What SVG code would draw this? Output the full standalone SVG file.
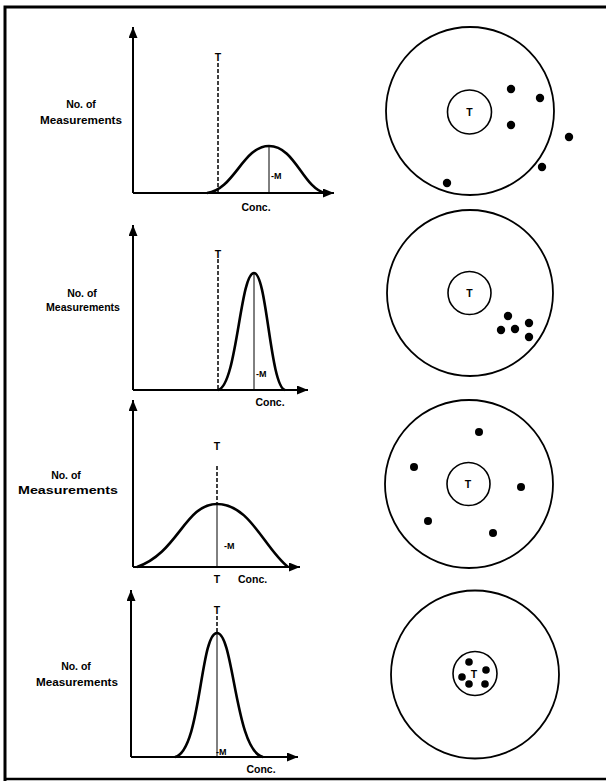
<svg xmlns="http://www.w3.org/2000/svg" width="606" height="783" viewBox="0 0 606 783">
<style>
text{font-family:"Liberation Sans",Arial,sans-serif;font-weight:bold;fill:#000}
.lab{font-size:10.5px}
.t{font-size:10.5px}
.m{font-size:9px}
.axis{stroke:#000;stroke-width:2;fill:none}
.curve{stroke:#000;stroke-width:2.6;fill:none;stroke-linejoin:round}
.mline{stroke:#000;stroke-width:1;fill:none}
.tline{stroke:#000;stroke-width:1.5;fill:none;stroke-dasharray:4,2}
.outer{stroke:#000;stroke-width:1.8;fill:none}
.inner{stroke:#000;stroke-width:1.6;fill:none}
.dot{fill:#000}
.frame{stroke:#000;fill:none}
</style>
<defs>
<marker id="ah" markerUnits="userSpaceOnUse" markerWidth="12" markerHeight="10" refX="11" refY="4.5" orient="auto">
<path d="M0,0 L11,4.5 L0,9 z" fill="#000"/>
</marker>
</defs>
<rect width="606" height="783" fill="#fff"/>
<g id="frame">
<path class="frame" d="M5,781 L5,7 L606,7" stroke-width="3"/>
<path class="frame" d="M5,779 L606,779" stroke-width="2.5"/>
</g>

<g id="plot1">
<line class="axis" x1="133" y1="193" x2="133" y2="27" marker-end="url(#ah)"/>
<line class="axis" x1="133" y1="193" x2="334" y2="193" marker-end="url(#ah)"/>
<line class="tline" x1="218" y1="63" x2="218" y2="193"/>
<text class="t" x="218" y="61" text-anchor="middle">T</text>
<path class="curve" d="M207,193 C234,190 243,146 269,146 C295,146 303,188 325,193"/>
<line class="mline" x1="269" y1="146" x2="269" y2="193"/>
<text class="m" x="271" y="179">-M</text>
<text class="lab" x="256" y="211" text-anchor="middle">Conc.</text>
<text class="lab" x="81" y="108" text-anchor="middle">No. of</text>
<text class="lab" x="40" y="124" textLength="82" lengthAdjust="spacingAndGlyphs">Measurements</text>
</g>

<g id="plot2">
<line class="axis" x1="133" y1="390" x2="133" y2="225" marker-end="url(#ah)"/>
<line class="axis" x1="133" y1="390" x2="308" y2="390" marker-end="url(#ah)"/>
<line class="tline" x1="218" y1="259" x2="218" y2="390"/>
<text class="t" x="218" y="258" text-anchor="middle">T</text>
<path class="curve" d="M218,390 C237,386 240,273 254,273 C267,273 270,386 285,390"/>
<line class="mline" x1="254" y1="273" x2="254" y2="390"/>
<text class="m" x="256" y="377">-M</text>
<text class="lab" x="270" y="406" text-anchor="middle">Conc.</text>
<text class="lab" x="82" y="297" text-anchor="middle">No. of</text>
<text class="lab" x="46" y="311" textLength="74" lengthAdjust="spacingAndGlyphs">Measurements</text>
</g>

<g id="plot3">
<line class="axis" x1="133" y1="567" x2="133" y2="400" marker-end="url(#ah)"/>
<line class="axis" x1="133" y1="567" x2="300" y2="567" marker-end="url(#ah)"/>
<line class="tline" x1="217" y1="466" x2="217" y2="504"/>
<text class="t" x="217" y="450" text-anchor="middle">T</text>
<path class="curve" d="M137,567 C178,553 185,504 217,504 C250,504 264,548 288,567"/>
<line class="mline" x1="217" y1="504" x2="217" y2="567"/>
<text class="m" x="224" y="549">-M</text>
<text class="lab" x="217" y="583" text-anchor="middle">T</text>
<text class="lab" x="238" y="583">Conc.</text>
<text class="lab" x="66" y="479" text-anchor="middle">No. of</text>
<text class="lab" x="18" y="494" textLength="100" lengthAdjust="spacingAndGlyphs">Measurements</text>
</g>

<g id="plot4">
<line class="axis" x1="131" y1="757" x2="131" y2="590" marker-end="url(#ah)"/>
<line class="axis" x1="131" y1="757" x2="298" y2="757" marker-end="url(#ah)"/>
<line class="tline" x1="217" y1="616" x2="217" y2="633"/>
<text class="t" x="217" y="614" text-anchor="middle">T</text>
<path class="curve" d="M175,757 C201,751 200,633 217,633 C234,633 235,751 263,757"/>
<line class="mline" x1="217" y1="633" x2="217" y2="757"/>
<text class="m" x="216" y="755">-M</text>
<text class="lab" x="261" y="773" text-anchor="middle">Conc.</text>
<text class="lab" x="76" y="670" text-anchor="middle">No. of</text>
<text class="lab" x="36" y="686" textLength="82" lengthAdjust="spacingAndGlyphs">Measurements</text>
</g>

<g id="target1">
<circle class="outer" cx="470" cy="111" r="84"/>
<circle class="inner" cx="469.5" cy="112" r="22"/>
<text class="t" x="469.5" y="116" text-anchor="middle">T</text>
<circle class="dot" cx="511" cy="89" r="4.2"/>
<circle class="dot" cx="540" cy="98" r="4.2"/>
<circle class="dot" cx="511" cy="125" r="4.2"/>
<circle class="dot" cx="569" cy="137" r="4.2"/>
<circle class="dot" cx="542" cy="167" r="4.2"/>
<circle class="dot" cx="447" cy="183" r="4.2"/>
</g>

<g id="target2">
<circle class="outer" cx="470" cy="293" r="83"/>
<circle class="inner" cx="469.5" cy="293" r="21.5"/>
<text class="t" x="469.5" y="297" text-anchor="middle">T</text>
<circle class="dot" cx="508" cy="316" r="4.2"/>
<circle class="dot" cx="501" cy="330" r="4.2"/>
<circle class="dot" cx="515" cy="329" r="4.2"/>
<circle class="dot" cx="529" cy="323" r="4.2"/>
<circle class="dot" cx="529" cy="337" r="4.2"/>
</g>

<g id="target3">
<circle class="outer" cx="469" cy="484" r="84"/>
<circle class="inner" cx="468.5" cy="484" r="21.5"/>
<text class="t" x="468" y="488" text-anchor="middle">T</text>
<circle class="dot" cx="479" cy="432" r="4"/>
<circle class="dot" cx="414" cy="467" r="4"/>
<circle class="dot" cx="521" cy="487" r="4"/>
<circle class="dot" cx="428" cy="521" r="4"/>
<circle class="dot" cx="493" cy="533" r="4"/>
</g>

<g id="target4">
<circle class="outer" cx="475" cy="674.5" r="84"/>
<circle class="inner" cx="475" cy="673.5" r="22"/>
<text class="t" x="474" y="678" text-anchor="middle">T</text>
<circle class="dot" cx="469" cy="662" r="3.8"/>
<circle class="dot" cx="486" cy="670" r="3.8"/>
<circle class="dot" cx="462" cy="677" r="3.8"/>
<circle class="dot" cx="469" cy="684" r="3.8"/>
<circle class="dot" cx="485" cy="684" r="3.8"/>
</g>
</svg>
